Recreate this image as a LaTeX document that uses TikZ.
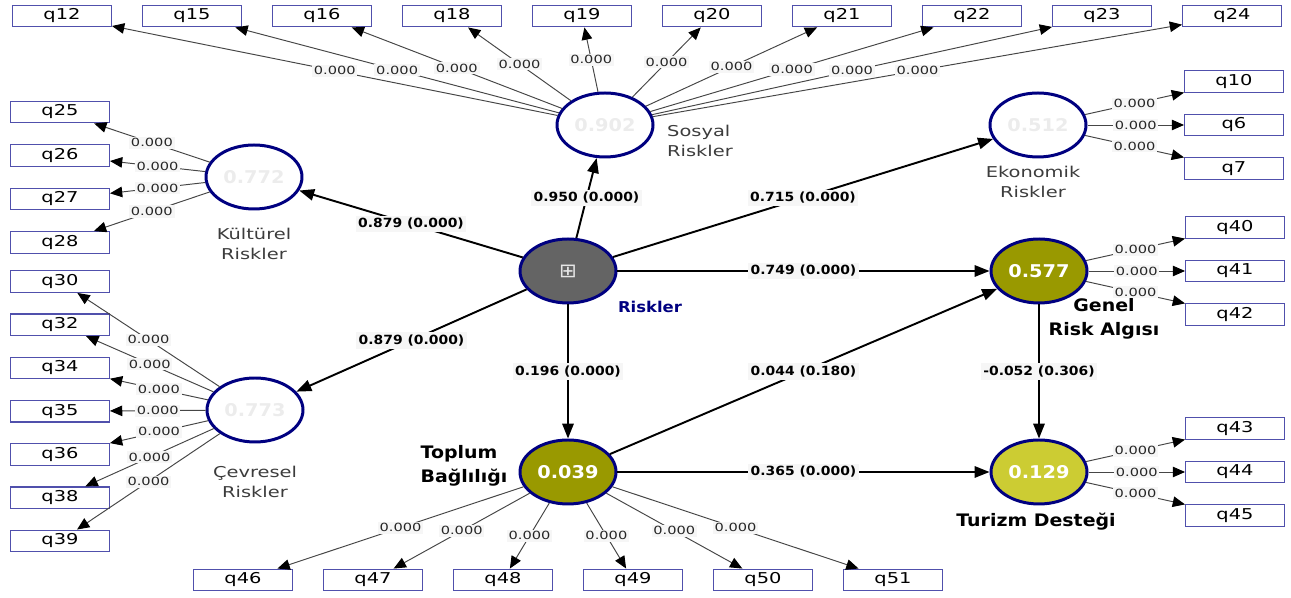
\documentclass[tikz,border=0pt]{standalone}
\usepackage{fontspec}
\usepackage{xcolor}
\usetikzlibrary{positioning,shapes.geometric,arrows.meta}
\newfontfamily\pls[FakeStretch=1.3]{DejaVu Sans}
\newfontfamily\plsb[FakeStretch=1.1]{DejaVu Sans}
\newcommand{\ld}{0.000}
\definecolor{lvblue}{RGB}{0,0,128}
\definecolor{boxblue}{RGB}{80,80,172}
\definecolor{riskgrey}{RGB}{100,100,100}
\definecolor{grolive}{RGB}{153,153,0}
\definecolor{tdyellow}{RGB}{204,204,51}
\definecolor{ldgrey}{RGB}{70,70,70}
\definecolor{labbg}{RGB}{246,246,246}
\definecolor{fade}{RGB}{236,236,236}
\definecolor{nmgrey}{RGB}{60,60,60}
\begin{document}
\begin{tikzpicture}[%
  on grid,%
  lat/.style={ellipse,draw=lvblue,line width=1.7pt,minimum width=1.92cm,minimum height=1.28cm,inner sep=0pt,text=white,font=\plsb\bfseries\fontsize{10}{11}\selectfont},%
  ind/.style={draw=boxblue,fill=white,line width=0.8pt,minimum width=1.97cm,minimum height=0.43cm,inner sep=0pt,font=\pls\fontsize{8.5}{9}\selectfont},%
  arr/.style={-{Triangle[length=8.5pt,width=6.5pt]},line width=1.1pt},%
  lda/.style={-{Triangle[length=7pt,width=6pt,color=black]},line width=0.55pt,draw=ldgrey},%
  coef/.style={fill=labbg,inner sep=1.5pt,font=\plsb\bfseries\fontsize{7.2}{8}\selectfont},%
  zero/.style={fill=labbg,inner sep=1pt,text=black!85,font=\pls\fontsize{6.4}{7}\selectfont},%
  lvname/.style={text=nmgrey,font=\pls\fontsize{8.5}{11.3}\selectfont},%
  lvbold/.style={font=\plsb\bfseries\fontsize{9.8}{13.5}\selectfont}%
  ]
  \useasboundingbox (0,0) rectangle (25.82,-11.96);
%
  \node (risk)   [lat,fill=riskgrey] at (11.36,-5.42) {\mdseries\fontsize{11}{12}\selectfont\textcolor{white!90!black}{⊞}};
  \node (sosyal) [lat,above right=2.92 and 0.74 of risk] {\textcolor{fade}{0.902}};
  \node (kultur) [lat,above left =1.88 and 6.28 of risk] {\textcolor{fade}{0.772}};
  \node (cevre)  [lat,below left =2.78 and 6.26 of risk] {\textcolor{fade}{0.773}};
  \node (ekon)   [lat,above right=2.92 and 9.40 of risk] {\textcolor{fade}{0.512}};
  \node (genel)  [lat,fill=grolive,right=9.42 of risk]  {0.577};
  \node (toplum) [lat,fill=grolive,below=4.02 of risk]  {0.039};
  \node (turizm) [lat,fill=tdyellow,below=4.02 of genel] {0.129};
%
  \node (risk-t)   [lvbold,font=\plsb\bfseries\fontsize{8.5}{10}\selectfont,text=lvblue,below right=0.72 and 1.64 of risk] {Riskler};
  \node (sosyal-t) [lvname,align=left,below right=0.32 and 1.9 of sosyal] {Sosyal\\Riskler};
  \node (kultur-t) [lvname,align=center,below=1.34 of kultur] {Kültürel\\Riskler};
  \node (cevre-t)  [lvname,align=center,below=1.44 of cevre] {Çevresel\\Riskler};
  \node (ekon-t)   [lvname,align=center,below left=1.14 and 0.1 of ekon] {Ekonomik\\Riskler};
  \node (genel-t)  [lvbold,align=center,below right=0.96 and 1.30 of genel] {Genel\\Risk Algısı};
  \node (toplum-t) [lvbold,align=left,above left=0.12 and 2.08 of toplum] {Toplum\\Bağlılığı};
  \node (turizm-t) [lvbold,below left=1.0 and 0.06 of turizm] {Turizm Desteği};
%
  \node (q12) [ind] at (1.24,-0.32) {q12};
  \node (q15) [ind,right=2.6 of q12] {q15};
  \node (q16) [ind,right=2.6 of q15] {q16};
  \node (q18) [ind,right=2.6 of q16] {q18};
  \node (q19) [ind,right=2.6 of q18] {q19};
  \node (q20) [ind,right=2.6 of q19] {q20};
  \node (q21) [ind,right=2.6 of q20] {q21};
  \node (q22) [ind,right=2.6 of q21] {q22};
  \node (q23) [ind,right=2.6 of q22] {q23};
  \node (q24) [ind,right=2.6 of q23] {q24};
%
  \node (q25) [ind] at (1.2,-2.24) {q25};
  \node (q26) [ind,below=0.87 of q25] {q26};
  \node (q27) [ind,below=0.87 of q26] {q27};
  \node (q28) [ind,below=0.87 of q27] {q28};
  \node (q30) [ind,below=0.78 of q28] {q30};
  \node (q32) [ind,below=0.865 of q30] {q32};
  \node (q34) [ind,below=0.865 of q32] {q34};
  \node (q35) [ind,below=0.865 of q34] {q35};
  \node (q36) [ind,below=0.865 of q35] {q36};
  \node (q38) [ind,below=0.865 of q36] {q38};
  \node (q39) [ind,below=0.865 of q38] {q39};
%
  \node (q6)  [ind,right=3.92 of ekon] {q6};
  \node (q10) [ind,above=0.87 of q6] {q10};
  \node (q7)  [ind,below=0.87 of q6] {q7};
  \node (q41) [ind,right=3.92 of genel] {q41};
  \node (q40) [ind,above=0.87 of q41] {q40};
  \node (q42) [ind,below=0.87 of q41] {q42};
  \node (q44) [ind,right=3.92 of turizm] {q44};
  \node (q43) [ind,above=0.87 of q44] {q43};
  \node (q45) [ind,below=0.87 of q44] {q45};
%
  \node (q46) [ind] at (4.86,-11.6) {q46};
  \node (q47) [ind,right=2.6 of q46] {q47};
  \node (q48) [ind,right=2.6 of q47] {q48};
  \node (q49) [ind,right=2.6 of q48] {q49};
  \node (q50) [ind,right=2.6 of q49] {q50};
  \node (q51) [ind,right=2.6 of q50] {q51};
%
  \draw[arr] (risk) -- node[coef] {0.950 (0.000)} (sosyal);
  \draw[arr] (risk) -- node[coef] {0.879 (0.000)} (kultur);
  \draw[arr] (risk) -- node[coef] {0.879 (0.000)} (cevre);
  \draw[arr] (risk) -- node[coef] {0.715 (0.000)} (ekon);
  \draw[arr] (risk) -- node[coef] {0.749 (0.000)} (genel);
  \draw[arr] (risk) -- node[coef] {0.196 (0.000)} (toplum);
  \draw[arr] (toplum) -- node[coef] {0.044 (0.180)} (genel);
  \draw[arr] (toplum) -- node[coef] {0.365 (0.000)} (turizm);
  \draw[arr] (genel) -- node[coef] {-0.052 (0.306)} (turizm);
%
  \draw[lda] (sosyal) -- node[zero] {\ld} (q12);
  \draw[lda] (sosyal) -- node[zero] {\ld} (q15);
  \draw[lda] (sosyal) -- node[zero] {\ld} (q16);
  \draw[lda] (sosyal) -- node[zero] {\ld} (q18);
  \draw[lda] (sosyal) -- node[zero] {\ld} (q19);
  \draw[lda] (sosyal) -- node[zero] {\ld} (q20);
  \draw[lda] (sosyal) -- node[zero] {\ld} (q21);
  \draw[lda] (sosyal) -- node[zero] {\ld} (q22);
  \draw[lda] (sosyal) -- node[zero] {\ld} (q23);
  \draw[lda] (sosyal) -- node[zero] {\ld} (q24);
%
  \draw[lda] (kultur) -- node[zero] {\ld} (q25);
  \draw[lda] (kultur) -- node[zero] {\ld} (q26);
  \draw[lda] (kultur) -- node[zero] {\ld} (q27);
  \draw[lda] (kultur) -- node[zero] {\ld} (q28);
%
  \draw[lda] (cevre) -- node[zero] {\ld} (q30);
  \draw[lda] (cevre) -- node[zero] {\ld} (q32);
  \draw[lda] (cevre) -- node[zero] {\ld} (q34);
  \draw[lda] (cevre) -- node[zero] {\ld} (q35);
  \draw[lda] (cevre) -- node[zero] {\ld} (q36);
  \draw[lda] (cevre) -- node[zero] {\ld} (q38);
  \draw[lda] (cevre) -- node[zero] {\ld} (q39);
%
  \draw[lda] (ekon) -- node[zero] {\ld} (q10);
  \draw[lda] (ekon) -- node[zero] {\ld} (q6);
  \draw[lda] (ekon) -- node[zero] {\ld} (q7);
  \draw[lda] (genel) -- node[zero] {\ld} (q40);
  \draw[lda] (genel) -- node[zero] {\ld} (q41);
  \draw[lda] (genel) -- node[zero] {\ld} (q42);
  \draw[lda] (turizm) -- node[zero] {\ld} (q43);
  \draw[lda] (turizm) -- node[zero] {\ld} (q44);
  \draw[lda] (turizm) -- node[zero] {\ld} (q45);
%
  \draw[lda] (toplum) -- node[zero] {\ld} (q46);
  \draw[lda] (toplum) -- node[zero] {\ld} (q47);
  \draw[lda] (toplum) -- node[zero] {\ld} (q48);
  \draw[lda] (toplum) -- node[zero] {\ld} (q49);
  \draw[lda] (toplum) -- node[zero] {\ld} (q50);
  \draw[lda] (toplum) -- node[zero] {\ld} (q51);
%
\end{tikzpicture}
\end{document}
